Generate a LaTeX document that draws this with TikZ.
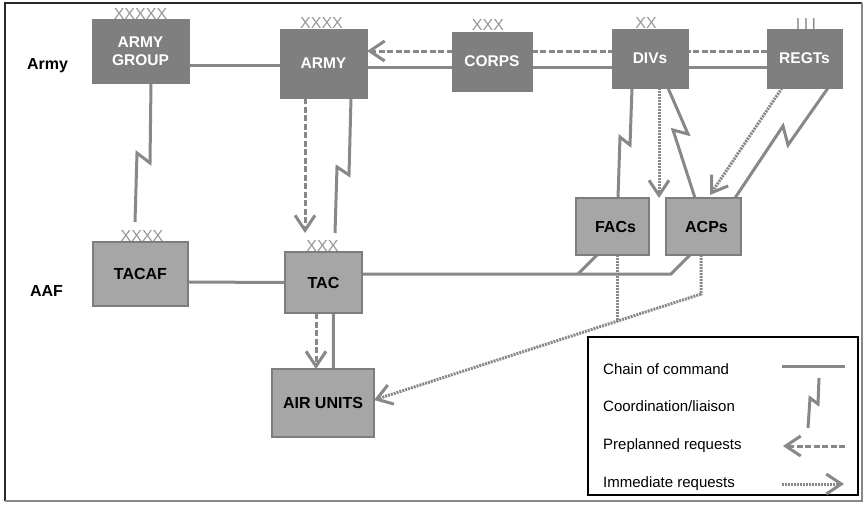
\documentclass[tikz,border=0pt]{standalone}
\usepackage{fontspec}
\setmainfont{Liberation Sans}
\usetikzlibrary{arrows.meta,calc,backgrounds}

\definecolor{linegray}{RGB}{136,136,136}
\definecolor{darkbox}{RGB}{127,127,127}
\definecolor{lightbox}{RGB}{166,166,166}
\definecolor{boxedge}{RGB}{125,125,125}
\definecolor{echgray}{RGB}{150,150,150}
\definecolor{framedark}{RGB}{40,40,40}

\tikzset{
  hq/.style={fill=darkbox, draw=darkbox, line width=0.8pt, text=white,
    font=\fontsize{15.5}{18}\selectfont\bfseries, align=center,
    inner sep=0pt, outer sep=0pt},
  aaf/.style={fill=lightbox, draw=boxedge, line width=2.5pt, text=black,
    font=\fontsize{16}{18}\selectfont\bfseries, align=center,
    inner sep=0pt, outer sep=0pt},
  ech/.style={text=echgray, font=\fontsize{16}{16}\selectfont, inner sep=0pt},
  rowlabel/.style={font=\fontsize{16}{18}\selectfont\bfseries, inner sep=0pt},
  legtext/.style={font=\fontsize{15}{18}\selectfont, anchor=base west, inner sep=0pt},
  barb/.style={-{Straight Barb[length=15pt,width=20pt,line width=3pt]}},
  chain/.style={draw=linegray, line width=3pt},
  liaison/.style={draw=linegray, line width=3pt, line join=miter},
  pre/.style={draw=linegray, line width=3pt, dash pattern=on 6pt off 2.5pt, barb},
  imm/.style={draw=linegray, line width=3pt, dash pattern=on 2pt off 1pt, barb},
}

\begin{document}
\begin{tikzpicture}[x=1pt, y=-1pt]
\useasboundingbox (0,0) rectangle (864,504);

% outer frame
\draw[framedark, line width=2pt] (5,501) -- (5,3) -- (862,3);
\draw[linegray, line width=2pt] (5,501) -- (862,501) -- (862,3);

% row labels
\node[rowlabel] (lblArmy) at (47.5,65.5) {Army};
\node[rowlabel] (lblAAF) at (46.5,290.5) {AAF};

% army headquarters
\node[hq, minimum width=97pt, minimum height=64pt] (AG) at (140.5,51) {ARMY\\GROUP};
\node[hq, minimum width=87pt, minimum height=69pt] (ARMY) at (323.5,63.5) {ARMY};
\node[hq, minimum width=80pt, minimum height=59pt] (CORPS) at (492,61.5) {CORPS};
\node[hq, minimum width=76pt, minimum height=59pt] (DIVs) at (650,58.5) {DIVs};
\node[hq, minimum width=75pt, minimum height=59pt] (REGTs) at (804.5,58.5) {REGTs};

% air force elements
\node[aaf, minimum width=95pt, minimum height=64pt] (TACAF) at (140.5,274) {TACAF};
\node[aaf, minimum width=77pt, minimum height=61pt] (TAC) at (323.5,282.5) {TAC};
\node[aaf, minimum width=73pt, minimum height=57pt] (FACs) at (612.5,226.5) {\hspace*{6pt}FACs};
\node[aaf, minimum width=75pt, minimum height=57pt] (ACPs) at (703.5,226.5) {\hspace*{6pt}ACPs};
\node[aaf, minimum width=102pt, minimum height=68pt] (AIR) at (323,403) {AIR UNITS};

% echelon marks
\node[ech] (eAG) at (140.5,13.5) {XXXXX};
\node[ech] (eARMY) at (321.5,22.7) {XXXX};
\node[ech] (eCORPS) at (488,24.7) {XXX};
\node[ech] (eDIVs) at (646,23) {XX};
\node[ech, text=linegray] (eREGTs) at (806,23.7) {I\hspace{3.5pt}I\hspace{3.5pt}I};
\node[ech] (eTACAF) at (142,236) {XXXX};
\node[ech] (eTAC) at (322.5,246) {XXX};

% legend
\node[draw=black, line width=2.5pt, minimum width=270pt, minimum height=158pt,
  inner sep=0pt] (legend) at (723,416) {};
\node[legtext] (lgChain) at (603,374) {Chain of command};
\node[legtext] (lgCoord) at (603,411.7) {Coordination/liaison};
\node[legtext] (lgPre) at (603,449) {Preplanned requests};
\node[legtext] (lgImm) at (603,487) {Immediate requests};

\coordinate (cA) at (782,366);
\coordinate (cB) at (845,366);
\coordinate (lA) at (819,378);
\coordinate (lB) at (808,428);
\coordinate (pA) at (845,446);
\coordinate (pB) at (783,446);
\coordinate (iA) at (782,484);
\coordinate (iB) at (844,484);
\draw[chain] (cA) -- (cB);
\draw[liaison] (lA) -- (818,404) -- (810,398) -- (lB);
\draw[pre] (pA) -- (pB);
\draw[imm] (iA) -- (iB);

\begin{pgfonlayer}{background}
  % chain of command, army side
  \draw[chain] ([yshift=-14pt]AG.east) -- ([yshift=-1.5pt]ARMY.west);
  \draw[chain] ([yshift=-8.5pt]REGTs.west) -- ([yshift=-3.5pt]ARMY.east);
  % preplanned requests up the army chain
  \draw[pre] ([yshift=7.5pt]REGTs.west) -- ([yshift=12.5pt]ARMY.east);

  % liaison links between army and air commands
  \draw[liaison] ([xshift=10.5pt]AG.south) -- (150,163) -- (137,153)
    -- ([xshift=-5.5pt,yshift=20pt]TACAF.north);
  \draw[liaison] ([xshift=27.5pt]ARMY.south) -- (349,175) -- (337,167)
    -- ([xshift=11.5pt,yshift=19pt]TAC.north);
  \draw[pre] ([xshift=-18.5pt]ARMY.south) -- ([xshift=-18.5pt,yshift=19pt]TAC.north);

  % air chain of command
  \draw[chain] ([yshift=-8pt]TACAF.east) -- (TAC.west);
  \coordinate (fork) at (578,274);
  \draw[chain] ([yshift=8.5pt]TAC.east) -- (671,274) -- ([xshift=-13.5pt]ACPs.south);
  \draw[chain] (fork) -- ([xshift=-15.5pt]FACs.south);
  \draw[pre] ([xshift=-7.5pt]TAC.south) -- ([xshift=-7pt]AIR.north);
  \draw[chain] ([xshift=10pt]TAC.south) -- ([xshift=10.3pt]AIR.north);

  % divisions and regiments to the control parties
  \draw[liaison] ([xshift=-18pt]DIVs.south) -- (630,145) -- (620,137)
    -- ([xshift=5.5pt]FACs.north);
  \draw[imm] ([xshift=9pt]DIVs.south) -- ([xshift=9pt]DIVs.south |- ACPs.north);
  \draw[liaison] ([xshift=18pt]DIVs.south) -- (688,134) -- (673,130)
    -- ([xshift=-8.5pt]ACPs.north);
  \draw[imm] ([xshift=-22.5pt]REGTs.south) -- ([xshift=6.5pt,yshift=3pt]ACPs.north);
  \draw[liaison] ([xshift=23.5pt]REGTs.south) -- (788,145) -- (783,126)
    -- ([xshift=31.5pt]ACPs.north);

  % immediate requests to the air units
  \coordinate (bend) at (701,294);
  \coordinate (airin) at ([yshift=3pt]AIR.east);
  \coordinate (join) at ($(bend)!0.2569!(airin)$);
  \draw[imm] ([xshift=-2.5pt]ACPs.south) -- (bend) -- (airin);
  \draw[imm, -] (join |- FACs.south) -- (join);
\end{pgfonlayer}
\end{tikzpicture}
\end{document}
